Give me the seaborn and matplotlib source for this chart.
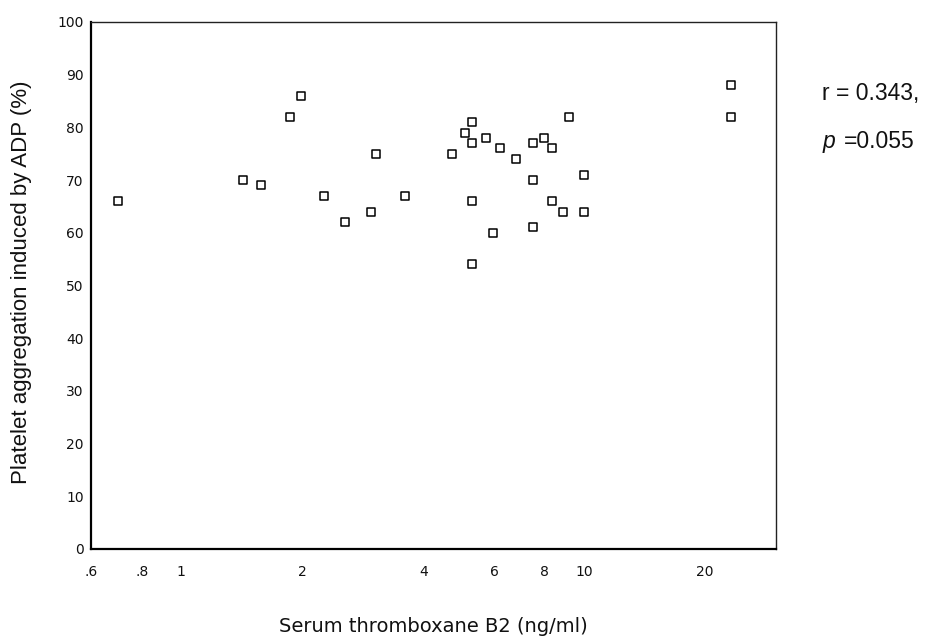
import matplotlib
matplotlib.use("Agg")
import matplotlib.pyplot as plt
import seaborn as sns
import pandas as pd
from matplotlib.ticker import FixedLocator, FixedFormatter, NullLocator

# ---- data ----
thromboxane = [0.70, 1.43, 1.58, 1.86, 1.99, 2.27, 2.56, 2.97, 3.05, 3.59,
               4.71, 5.07, 5.27, 5.27, 5.27, 5.27, 5.70, 5.96, 6.18, 6.77,
               7.47, 7.47, 7.47, 7.94, 8.35, 8.35, 8.87, 9.21, 10.0, 10.0,
               23.2, 23.2]
aggregation = [66, 70, 69, 82, 86, 67, 62, 64, 75, 67,
               75, 79, 81, 77, 66, 54, 78, 60, 76, 74,
               77, 70, 61, 78, 76, 66, 64, 82, 71, 64,
               88, 82]
x_ticks = [0.6, 0.8, 1, 2, 4, 6, 8, 10, 20]
x_tick_labels = [".6", ".8", "1", "2", "4", "6", "8", "10", "20"]
y_ticks = [0, 10, 20, 30, 40, 50, 60, 70, 80, 90, 100]
x_label = "Serum thromboxane B2 (ng/ml)"
y_label = "Platelet aggregation induced by ADP (%)"
r_text = "r = 0.343,"
p_value_text = "=0.055"

sns.set_style("white")
plt.rcParams['font.family'] = ['DejaVu Sans']

fig = plt.figure(figsize=(9.26, 6.42), dpi=100)
ax = fig.add_axes([0.0988, 0.1449, 0.7394, 0.8209])

df = pd.DataFrame({"tx": thromboxane, "agg": aggregation})
sns.scatterplot(data=df, x="tx", y="agg", marker="s", s=40,
                color="white", edgecolor="black", linewidth=1.1, ax=ax,
                zorder=3, clip_on=False)

ax.set_xscale("log")
ax.set_xlim(0.6, 30)
ax.set_ylim(0, 100)
ax.xaxis.set_major_locator(FixedLocator(x_ticks))
ax.xaxis.set_major_formatter(FixedFormatter(x_tick_labels))
ax.xaxis.set_minor_locator(NullLocator())
ax.yaxis.set_major_locator(FixedLocator(y_ticks))
ax.yaxis.set_minor_locator(NullLocator())

ax.tick_params(axis="both", direction="out", length=2.5, width=2.2,
               color="black", labelsize=10, labelcolor="#111111")
ax.tick_params(axis="x", pad=9)
ax.tick_params(axis="y", pad=3)

for side in ["left", "bottom"]:
    ax.spines[side].set_linewidth(1.6)
    ax.spines[side].set_color("black")
for side in ["top", "right"]:
    ax.spines[side].set_visible(True)
    ax.spines[side].set_linewidth(1.0)
    ax.spines[side].set_color("#222222")

ax.set_xlabel(x_label, fontsize=14, color="#111111")
ax.xaxis.set_label_coords(0.5, -0.148)
ax.xaxis.label.set_verticalalignment("center")
ax.set_ylabel(y_label, fontsize=16, family="Liberation Sans", color="#111111")
ax.yaxis.set_label_coords(-0.1015, 0.506)
ax.yaxis.label.set_verticalalignment("center")

fig.text(0.888, 0.855, r_text, fontsize=16.5, family="Liberation Sans",
         va="center", ha="left", color="#111111")
fig.text(0.888, 0.779, "p", fontsize=16.5, family="Liberation Sans",
         style="italic", va="center", ha="left", color="#111111")
fig.text(0.911, 0.779, p_value_text, fontsize=16.5, family="Liberation Sans",
         va="center", ha="left", color="#111111")

fig.savefig("out.png", dpi=100, facecolor="white")
